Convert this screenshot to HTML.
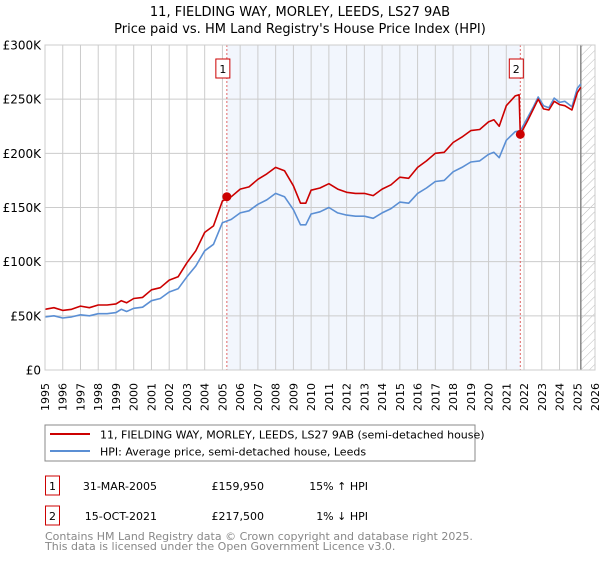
<!DOCTYPE html>
<html><head><meta charset="utf-8"><style>
body{margin:0;background:#fff;font-family:"DejaVu Sans","Liberation Sans",sans-serif;}
svg text{font-family:"DejaVu Sans","Liberation Sans",sans-serif;}
</style></head><body>
<svg id="c" width="600" height="560" xmlns="http://www.w3.org/2000/svg">
<defs><pattern id="hatch" width="6" height="6" patternUnits="userSpaceOnUse" patternTransform="rotate(45)"><line x1="0" y1="0" x2="0" y2="6" stroke="#bbb" stroke-width="1"/></pattern></defs>
<text x="300" y="16" text-anchor="middle" font-size="13">11, FIELDING WAY, MORLEY, LEEDS, LS27 9AB</text>
<text x="300" y="33" text-anchor="middle" font-size="13">Price paid vs. HM Land Registry's House Price Index (HPI)</text>
<g id="plot"></g>
<rect x="45" y="425" width="430" height="36" fill="#fff" stroke="#888"/>
<line x1="50" y1="434" x2="90" y2="434" stroke="#cc0000" stroke-width="2"/>
<text x="100" y="438.5" font-size="11">11, FIELDING WAY, MORLEY, LEEDS, LS27 9AB (semi-detached house)</text>
<line x1="50" y1="451" x2="90" y2="451" stroke="#5b8fd4" stroke-width="2"/>
<text x="100" y="455.5" font-size="11">HPI: Average price, semi-detached house, Leeds</text>
<rect x="45.5" y="476" width="14" height="19" fill="#fff" stroke="#cc0000"/>
<text x="52.5" y="490" text-anchor="middle" font-size="11">1</text>
<text x="157" y="490" text-anchor="end" font-size="11">31-MAR-2005</text>
<text x="264" y="490" text-anchor="end" font-size="11">£159,950</text>
<text x="368" y="490" text-anchor="end" font-size="11">15% ↑ HPI</text>
<rect x="45.5" y="506" width="14" height="19" fill="#fff" stroke="#cc0000"/>
<text x="52.5" y="520" text-anchor="middle" font-size="11">2</text>
<text x="157" y="520" text-anchor="end" font-size="11">15-OCT-2021</text>
<text x="264" y="520" text-anchor="end" font-size="11">£217,500</text>
<text x="368" y="520" text-anchor="end" font-size="11">1% ↓ HPI</text>
<text x="45" y="540" font-size="11" fill="#888">Contains HM Land Registry data © Crown copyright and database right 2025.</text>
<text x="45" y="550" font-size="11" fill="#888">This data is licensed under the Open Government Licence v3.0.</text>
</svg>
<script>
const hpiYears=[1995.0,1995.5,1996.0,1996.5,1997.0,1997.5,1998.0,1998.5,1999.0,1999.3,1999.6,2000.0,2000.5,2001.0,2001.5,2002.0,2002.5,2003.0,2003.5,2004.0,2004.5,2005.0,2005.5,2006.0,2006.5,2007.0,2007.5,2008.0,2008.5,2009.0,2009.4,2009.7,2010.0,2010.5,2011.0,2011.5,2012.0,2012.5,2013.0,2013.5,2014.0,2014.5,2015.0,2015.5,2016.0,2016.5,2017.0,2017.5,2018.0,2018.5,2019.0,2019.5,2020.0,2020.3,2020.6,2021.0,2021.5,2021.8,2022.2,2022.5,2022.8,2023.1,2023.4,2023.7,2024.0,2024.3,2024.7,2025.0,2025.2];
const hpiValues=[49,50,48,49,51,50,52,52,53,56,54,57,58,64,66,72,75,86,96,110,116,136,139,145,147,153,157,163,160,148,134,134,144,146,150,145,143,142,142,140,145,149,155,154,163,168,174,175,183,187,192,193,199,201,196,212,220,221,233,242,252,244,242,251,247,248,243,260,264];
const priceYears=[1995.0,1995.5,1996.0,1996.5,1997.0,1997.5,1998.0,1998.5,1999.0,1999.3,1999.6,2000.0,2000.5,2001.0,2001.5,2002.0,2002.5,2003.0,2003.5,2004.0,2004.5,2005.0,2005.5,2006.0,2006.5,2007.0,2007.5,2008.0,2008.5,2009.0,2009.4,2009.7,2010.0,2010.5,2011.0,2011.5,2012.0,2012.5,2013.0,2013.5,2014.0,2014.5,2015.0,2015.5,2016.0,2016.5,2017.0,2017.5,2018.0,2018.5,2019.0,2019.5,2020.0,2020.3,2020.6,2021.0,2021.5,2021.72,2021.79,2022.2,2022.5,2022.8,2023.1,2023.4,2023.7,2024.0,2024.3,2024.7,2025.0,2025.2];
const priceValues=[56,57.5,55,56,59,57.5,60,60,61,64,62,66,67,74,76,83,86,99,110,127,133,156,160,167,169,176,181,187,184,170,154,154,166,168,172,167,164,163,163,161,167,171,178,177,187,193,200,201,210,215,221,222,229,231,225,244,253,254,217.5,230,240,250,241,240,248,245,244,240,256,261];
const saleYears=[2005.25,2021.79];
const saleValues=[159.95,217.5];
const saleLabels=["1","2"];
const yTicks=[0,50,100,150,200,250,300];
const yTickLabels=["£0","£50K","£100K","£150K","£200K","£250K","£300K"];
const xTicks=[1995,1996,1997,1998,1999,2000,2001,2002,2003,2004,2005,2006,2007,2008,2009,2010,2011,2012,2013,2014,2015,2016,2017,2018,2019,2020,2021,2022,2023,2024,2025,2026];
const dataEnd=2025.2;

const L=45,R=595,T=45,B=370,X0=1995,X1=2026,YMAX=300;
const sx=v=>L+(v-X0)/(X1-X0)*(R-L);
const sy=v=>B-v/YMAX*(B-T);
const NS="http://www.w3.org/2000/svg";
const g=document.getElementById('plot');
function mk(t,a){const e=document.createElementNS(NS,t);for(const k in a)e.setAttribute(k,a[k]);g.appendChild(e);return e;}

let bg=mk('rect',{x:L,y:T,width:R-L,height:B-T,fill:'#fff'});


let sh=mk('rect',{x:sx(saleYears[0]),y:T,width:sx(saleYears[1])-sx(saleYears[0]),height:B-T,fill:'#eef3fc',opacity:0.75});


let ht=mk('rect',{x:sx(dataEnd),y:T,width:R-sx(dataEnd),height:B-T,fill:'url(#hatch)'});


xTicks.forEach(t=>{
  let l=mk('line',{x1:sx(t),x2:sx(t),y1:T,y2:B,stroke:'#ccc','stroke-width':1});
  
  
  let tx=mk('text',{x:0,y:0,'font-size':11,'text-anchor':'end',transform:`translate(${sx(t)+4},${B+13}) rotate(-90)`});
  tx.textContent=t;
  
  
});
yTicks.forEach((t,i)=>{
  let l=mk('line',{x1:L,x2:R,y1:sy(t),y2:sy(t),stroke:'#ccc','stroke-width':1});
  
  
  let tx=mk('text',{x:L-4,y:sy(t)+4.5,'font-size':12,'text-anchor':'end'});
  tx.textContent=yTickLabels[i];
  
  
});
let de=mk('line',{x1:sx(dataEnd),x2:sx(dataEnd),y1:T,y2:B,stroke:'#888','stroke-width':1.5});


saleYears.forEach((y,i)=>{
  let l=mk('line',{x1:sx(y),x2:sx(y),y1:T,y2:B,stroke:'#e06666','stroke-width':1,'stroke-dasharray':'2,2'});
  
  
});
function path(xs,vs,col,name){
  let d=xs.map((x,i)=>(i?'L':'M')+sx(x).toFixed(1)+','+sy(vs[i]).toFixed(1)).join('');
  let p=mk('path',{d:d,fill:'none',stroke:col,'stroke-width':1.6,'stroke-linejoin':'round'});
  
  
}
path(hpiYears,hpiValues,'#5b8fd4','hpi-line');
path(priceYears,priceValues,'#cc0000','property-price-line');
saleYears.forEach((y,i)=>{
  let c=mk('circle',{cx:sx(y),cy:sy(saleValues[i]),r:4.5,fill:'#cc0000'});
  
  
  let b=mk('rect',{x:sx(y)-11,y:T+14,width:14,height:19,fill:'#fff',stroke:'#cc0000'});
  
  
  let t=mk('text',{x:sx(y)-4,y:T+28,'font-size':11,'text-anchor':'middle'});
  t.textContent=saleLabels[i];
  
  
});
let fr=mk('rect',{x:L,y:T,width:R-L,height:B-T,fill:'none',stroke:'#ccc'});


</script>
</body></html>
